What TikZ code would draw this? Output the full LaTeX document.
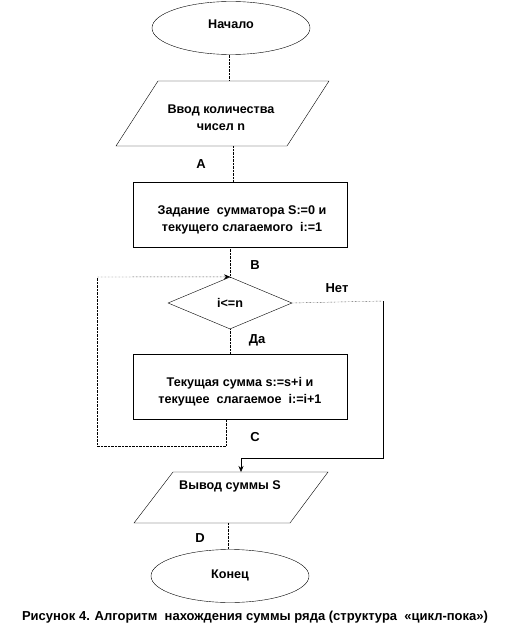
\documentclass[tikz,border=0pt]{standalone}
\usepackage{fontspec}
\setmainfont{Liberation Sans}
\usetikzlibrary{shapes.geometric,arrows.meta}
\begin{document}
\begin{tikzpicture}[x=1pt,y=-1pt,
  txt/.style={font=\bfseries\fontsize{12.6}{17}\selectfont, align=center, inner sep=0pt},
  term/.style={draw, thin, ellipse, minimum width=158pt, minimum height=53pt, inner sep=0pt},
  procbox/.style={draw, thin, rectangle, minimum width=214pt, minimum height=65pt},
  decide/.style={draw, thin, diamond, minimum width=124pt, minimum height=52pt, inner sep=0pt},
  conn/.style={thin, densely dotted},
  solidconn/.style={thin},
  arr/.style={-{Stealth[length=6pt,width=5pt]}},
  lbl/.style={font=\bfseries\fontsize{13}{15}\selectfont, inner sep=0pt}]
\useasboundingbox (0,0) rectangle (508,631);
% start
\node[term] (start) at (231,28) {};
\node[txt] (starttxt) at (231,24) {Начало};
% input parallelogram
\draw[thin] (158,81) coordinate (p1tl) -- (329,81) coordinate (p1tr) -- (287,146) coordinate (p1br) -- (116,146) coordinate (p1bl) -- cycle;
\coordinate (p1top) at (229,81);
\coordinate (p1bot) at (233,146);
\node[txt] (p1txt) at (221,118) {Ввод количества\\чисел n};
% rect 1
\node[procbox] (r1) at (240,214.5) {};
\node[txt] (r1txt) at (242,220) {Задание\ \ сумматора\ S:=0 и\\текущего слагаемого\ \ i:=1};
% diamond
\node[decide] (cond) at (230,303) {};
\node[txt] (condtxt) at (230,303) {i<=n};
% rect 2
\node[procbox] (r2) at (240,387) {};
\node[txt] (r2txt) at (240,392) {Текущая сумма s:=s+i и\\текущее\ \ слагаемое\ \ i:=i+1};
% output parallelogram
\draw[thin] (173,472) coordinate (p2tl) -- (328,472) coordinate (p2tr) -- (290,523) coordinate (p2br) -- (134,523) coordinate (p2bl) -- cycle;
\coordinate (p2top) at (241,472);
\coordinate (p2bot) at (228,523);
\node[txt] (p2txt) at (230,486) {Вывод суммы S};
% end
\node[term] (stop) at (230,576) {};
\node[txt] (stoptxt) at (230,575) {Конец};
% labels
\node[lbl] (la) at (201,164) {A};
\node[lbl] (lb) at (255,265) {B};
\node[lbl] (lnet) at (337,288) {Нет};
\node[lbl] (lda) at (257,340) {Да};
\node[lbl] (lc) at (255,437) {C};
\node[lbl] (ld) at (200,538) {D};
% connectors
\draw[conn] (start.south -| p1top) -- (p1top);
\draw[conn] (p1bot) -- (p1bot |- r1.north);
\draw[conn] (cond.north |- r1.south) -- (cond.north);
\draw[conn] (cond.south) -- (cond.south |- r2.north);
\coordinate (loopbr) at (226,446);
\coordinate (loopbl) at (97,446);
\coordinate (looptl) at (97,277);
\draw[conn] (loopbr |- r2.south) -- (loopbr) -- (loopbl) -- (looptl);
\draw[conn,arr] (looptl) -- (cond.north);
\coordinate (nr) at (383,301);
\coordinate (nb) at (383,458);
\draw[conn] (cond.east) -- (nr);
\draw[solidconn] (nr) -- (nb) -- (nb -| p2top);
\draw[solidconn,arr] (nb -| p2top) -- (p2top);
\draw[conn] (p2bot) -- (p2bot |- stop.north);
% caption
\node[font=\bfseries\fontsize{13}{15}\selectfont, inner sep=0pt] (cap) at (255,617) {Рисунок 4. Алгоритм\ \ нахождения суммы ряда (структура\ \ «цикл-пока»)};
\end{tikzpicture}
\end{document}
